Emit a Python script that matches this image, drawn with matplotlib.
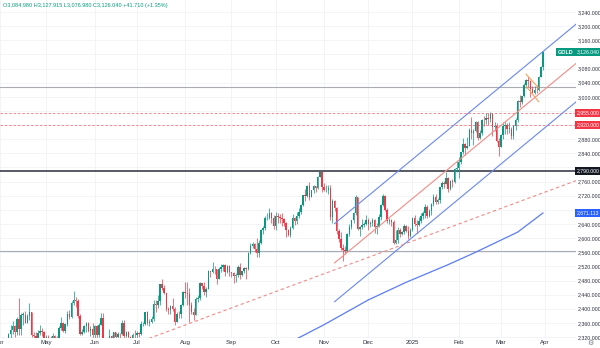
import numpy as np
import pandas as pd
import matplotlib
matplotlib.use("Agg")
import matplotlib.pyplot as plt
from matplotlib.transforms import blended_transform_factory

# ---------------- data (daily XAUUSD, Apr 2024 - Mar 2025) ----------------
holidays = ["2024-12-25", "2025-01-01"]
dates = [d for d in pd.bdate_range("2024-04-01", "2025-03-31") if d.strftime("%Y-%m-%d") not in holidays]

opens = [
    2233,2250,2280,2300,2291,2329,2339,2352,2333,2372,2344,2383,2383,2361,2379,2392,2327,2322,2316,2332,2337,2335,
    2286,2320,2304,2301,2324,2314,2309,2346,2360,2336,2358,2386,2376,2415,2425,2421,2379,2329,2334,2351,2361,2338,2343,
    2327,2350,2326,2355,2375,2294,2311,2316,2324,2303,2333,2319,2329,2328,2360,2322,2334,2319,2298,2327,
    2326,2331,2330,2356,2356,2392,2359,2364,2371,2414,2411,2422,2469,2459,2445,2400,2396,2409,2398,2364,2386,2384,2410,
    2448,2446,2443,2410,2390,2383,2427,2431,2472,2465,2448,2456,2507,2504,2514,2512,2484,2512,2518,2524,2504,2521,
    2503,2500,2493,2495,2517,2497,2506,2516,2512,2558,2578,2582,2569,2559,2587,2622,2628,2657,2657,2672,2658,
    2634,2663,2659,2656,2653,2644,2622,2608,2630,2657,2649,2662,2674,2693,2721,2719,2748,2717,2736,2747,2743,2774,2788,
    2744,2736,2736,2742,2659,2706,2685,2619,2598,2573,2565,2563,2612,2631,2650,2670,2715,2625,2632,2636,2640,
    2650,2640,2643,2650,2632,2633,2660,2694,2718,2681,2648,2652,2646,2587,2594,2622,2612,2618,2634,2621,2606,
    2624,2658,2640,2636,2648,2662,2670,2689,2662,2677,2697,2715,2702,2708,2745,2755,2754,2770,2740,2763,2760,2795,
    2798,2815,2843,2866,2856,2861,2907,2898,2904,2928,2883,2898,2935,2933,2939,2936,2951,2915,2917,2876,
    2858,2893,2918,2920,2910,2910,2889,2917,2934,2988,2984,3001,3034,3047,3044,3023,3011,3020,3019,3057,3084.98,
]
highs = [
    2266,2281,2305,2305,2331,2354,2365,2355,2378,2431,2387,2392,2394,2386,2417,2392,2335,2335,2339,2353,2345,2336,
    2327,2326,2324,2331,2326,2322,2351,2378,2364,2359,2393,2397,2422,2450,2433,2428,2385,2343,2355,2364,2363,2351,2360,
    2354,2355,2361,2388,2388,2315,2317,2343,2326,2335,2335,2334,2332,2368,2369,2336,2336,2322,2332,2340,
    2338,2335,2365,2363,2392,2393,2370,2379,2424,2424,2440,2469,2483,2468,2446,2405,2412,2431,2404,2391,2395,2413,2451,
    2477,2477,2460,2420,2401,2432,2439,2476,2474,2477,2461,2509,2508,2531,2521,2514,2517,2528,2526,2528,2523,2525,
    2505,2503,2500,2523,2529,2508,2518,2518,2560,2586,2589,2585,2600,2595,2625,2634,2664,2670,2685,2674,2665,
    2673,2670,2669,2671,2657,2646,2626,2633,2669,2660,2673,2685,2696,2722,2740,2749,2758,2737,2749,2747,2775,2790,2790,
    2757,2750,2750,2750,2710,2709,2688,2627,2618,2582,2577,2615,2639,2651,2674,2721,2716,2635,2655,2646,2665,
    2657,2649,2657,2655,2644,2668,2697,2726,2723,2686,2657,2655,2652,2623,2632,2630,2621,2639,2637,2635,2629,
    2660,2665,2650,2660,2670,2678,2697,2693,2683,2700,2725,2724,2713,2746,2763,2763,2786,2772,2764,2768,2799,2817,
    2830,2845,2882,2869,2887,2911,2942,2910,2932,2931,2905,2937,2947,2955,2954,2956,2953,2930,2925,2882,
    2895,2928,2930,2925,2930,2915,2921,2940,2990,3005,3002,3038,3050,3057,3047,3031,3030,3033,3060,3087,3127.915,
]
lows = [
    2229,2244,2269,2275,2276,2318,2329,2319,2327,2326,2325,2354,2359,2361,2369,2320,2291,2309,2304,2325,2324,2285,
    2281,2295,2277,2291,2304,2297,2306,2340,2334,2332,2352,2372,2373,2412,2406,2374,2326,2325,2332,2334,2334,2324,2314,
    2314,2316,2320,2354,2287,2286,2298,2299,2301,2297,2311,2308,2318,2327,2316,2319,2316,2293,2294,2318,
    2318,2319,2327,2352,2353,2354,2351,2360,2366,2392,2401,2410,2454,2441,2393,2384,2386,2393,2353,2364,2375,2375,2408,
    2430,2410,2364,2385,2367,2382,2418,2425,2456,2439,2432,2455,2489,2500,2499,2471,2484,2504,2506,2494,2502,2492,
    2491,2472,2477,2490,2485,2493,2500,2485,2510,2556,2573,2560,2547,2547,2584,2613,2623,2652,2655,2642,2625,
    2624,2643,2642,2635,2634,2604,2605,2603,2625,2637,2640,2657,2667,2692,2705,2717,2708,2715,2728,2731,2738,2772,2730,
    2732,2730,2725,2652,2643,2677,2611,2590,2565,2536,2555,2562,2605,2625,2643,2666,2622,2605,2625,2631,2636,
    2622,2632,2633,2614,2613,2631,2652,2690,2676,2643,2640,2634,2583,2583,2585,2603,2610,2613,2616,2597,2602,
    2620,2635,2614,2634,2643,2655,2658,2656,2660,2666,2692,2696,2696,2699,2740,2741,2752,2730,2737,2746,2755,2786,
    2771,2810,2839,2834,2853,2860,2880,2864,2900,2877,2880,2891,2918,2923,2920,2930,2890,2904,2872,2832,
    2857,2880,2895,2894,2897,2880,2880,2906,2930,2972,2980,3000,3025,3029,2999,3010,3009,3012,3016,3055,3076.98,
]
closes = [
    2250,2280,2300,2291,2329,2339,2352,2333,2372,2344,2383,2383,2361,2379,2392,2327,2322,2316,2332,2337,2335,2286,
    2320,2304,2301,2324,2314,2309,2346,2360,2336,2358,2386,2376,2415,2425,2421,2379,2329,2334,2351,2361,2338,2343,2327,
    2350,2326,2355,2375,2294,2311,2316,2324,2303,2333,2319,2329,2328,2360,2322,2334,2319,2298,2327,2326,
    2331,2330,2356,2356,2392,2359,2364,2371,2414,2411,2422,2469,2459,2445,2400,2396,2409,2398,2364,2386,2384,2410,2448,
    2446,2443,2410,2390,2383,2427,2431,2472,2465,2448,2456,2507,2504,2514,2512,2484,2512,2518,2524,2504,2521,2503,
    2500,2493,2495,2517,2497,2506,2516,2512,2558,2578,2582,2569,2559,2587,2622,2628,2657,2657,2672,2658,2634,
    2663,2659,2656,2653,2644,2622,2608,2630,2657,2649,2662,2674,2693,2721,2719,2748,2717,2736,2747,2743,2774,2788,2744,
    2736,2736,2742,2659,2706,2685,2619,2598,2573,2565,2563,2612,2631,2650,2670,2715,2625,2632,2636,2640,2650,
    2640,2643,2650,2632,2633,2660,2694,2718,2681,2648,2652,2646,2587,2594,2622,2612,2618,2634,2621,2606,2624,
    2658,2640,2636,2648,2662,2670,2689,2662,2677,2697,2715,2702,2708,2745,2755,2754,2770,2740,2763,2760,2795,2798,
    2815,2843,2866,2856,2861,2907,2898,2904,2928,2883,2898,2935,2933,2939,2936,2951,2915,2917,2876,2858,
    2893,2918,2920,2910,2910,2889,2917,2934,2988,2984,3001,3034,3047,3044,3023,3011,3020,3019,3057,3084.33,3126.04,
]

# 200-day moving average
ma_dates = ["2024-10-01", "2024-11-01", "2024-12-02", "2024-12-27", "2025-01-27", "2025-02-13", "2025-03-13", "2025-03-31"]
ma_values = [2284, 2355, 2425, 2475, 2525, 2560, 2617, 2671.113]

# drawn tools: (start date, start price, end date, end price)
channel_upper = ("2024-11-08", 2641, "2025-03-31", 3128)
channel_mid = ("2024-11-08", 2530, "2025-03-31", 3017)
channel_lower = ("2024-11-08", 2420, "2025-03-31", 2908)
trend_dashed = ("2024-07-25", 2343, "2025-03-31", 2728)
flag_upper = ("2025-03-19", 3064, "2025-03-27", 3025)
flag_lower = ("2025-03-19", 3030, "2025-03-27", 2986)

hline_gray = [3028, 2563]
hline_red = [2955, 2920]
hline_black = 2790

month_labels = ["Apr", "May", "Jun", "Jul", "Aug", "Sep", "Oct", "Nov", "Dec", "2025", "Feb", "Mar", "Apr"]
price_ticks = [2320, 2360, 2400, 2440, 2480, 2520, 2560, 2600, 2640, 2680, 2720, 2760,
               2840, 2880, 3000, 3040, 3080, 3160, 3200, 3240]

# ---------------- figure ----------------
UP, DOWN = "#089981", "#f23645"
SANS = ["Liberation Sans", "DejaVu Sans"]
date_index = {d.strftime("%Y-%m-%d"): i for i, d in enumerate(dates)}
n = len(dates)

def xi(ds):
    return date_index[ds]

fig = plt.figure(figsize=(6, 3.48), dpi=100)
ax = fig.add_axes([0, 10 / 348, 576 / 600, 338 / 348])
x_left, x_right = 1 / 2.108, 577 / 2.108
y_low, y_high = 2317.3, 3273.96
ax.set_xlim(x_left, x_right)
ax.set_ylim(y_low, y_high)
for s in ax.spines.values():
    s.set_visible(False)

# month ticks
month_pos = []
prev = None
for i, d in enumerate(dates):
    if d.month != prev:
        month_pos.append(i)
        prev = d.month
month_pos.append(n)  # April 2025 (next bar)
ax.set_xticks(month_pos)
ax.set_xticklabels(month_labels, family=SANS, fontsize=4.4)
ax.set_yticks(price_ticks)
ax.set_yticklabels([f"{v:,.3f}" for v in price_ticks], family=SANS, fontsize=3.8)
ax.yaxis.tick_right()
ax.tick_params(axis="both", length=0, colors="#2a2e39")
ax.tick_params(axis="y", pad=1.3)
ax.tick_params(axis="x", pad=1.5)
ax.grid(True, color="#f0f2f7", lw=0.6, zorder=0)
for p in [2800, 2920, 2960, 3120]:
    ax.axhline(p, color="#f0f2f7", lw=0.6, zorder=0)

# candles
o = np.array(opens, float); h = np.array(highs, float)
l = np.array(lows, float); c = np.array(closes, float)
idx = np.arange(n)
cols = np.where(c >= o, UP, DOWN)
ax.vlines(idx, l, h, colors=cols, lw=0.5, zorder=3)
body = np.maximum(np.abs(c - o), 1.0)
ax.bar(idx, body, bottom=np.minimum(o, c), width=0.7, color=cols, linewidth=0, zorder=3)

# horizontal levels
for p in hline_gray:
    ax.axhline(p, color="#a9acb5", lw=0.8, zorder=2)
for p in hline_red:
    ax.axhline(p, color="#f5868d", lw=0.7, ls=(0, (2.5, 2)), zorder=2)
ax.axhline(hline_black, color="#2a2e39", lw=1.1, zorder=2)

def draw_line(spec, color, extend=True, start_extend=False, **kw):
    d0, p0, d1, p1 = spec
    i0, i1 = xi(d0), xi(d1)
    slope = (p1 - p0) / (i1 - i0)
    xs0 = x_left - 5 if start_extend else i0
    xs1 = x_right + 5 if extend else i1
    ax.plot([xs0, xs1], [p0 + slope * (xs0 - i0), p0 + slope * (xs1 - i0)], color=color, zorder=4, **kw)

draw_line(channel_upper, "#6a88f0", lw=0.8)
draw_line(channel_mid, "#f28b85", lw=0.8)
draw_line(channel_lower, "#6a88f0", lw=0.8)
draw_line(trend_dashed, "#f28b85", start_extend=True, lw=0.8, ls=(0, (3, 2.5)))
draw_line(flag_upper, "#f7a35c", extend=False, lw=0.8)
draw_line(flag_lower, "#f7a35c", extend=False, lw=0.8)

# moving average
ax.plot([xi(d) for d in ma_dates], ma_values, color="#5b7cf5", lw=0.9, zorder=4)

# axis tags
bt = blended_transform_factory(ax.transAxes, ax.transData)
def tag(price, text, fc):
    ax.text(1.0015, price, text, transform=bt, ha="left", va="center", fontsize=3.7,
            family=SANS, color="white", clip_on=False, zorder=10,
            bbox=dict(boxstyle="square,pad=0.3", fc=fc, ec="none"))

tag(closes[-1], f"{closes[-1]:,.3f}", UP)
tag(2955, "2,955.000", DOWN)
tag(2920, "2,920.000", DOWN)
tag(2790, "2,790.000", "#131722")
tag(ma_values[-1], f"{ma_values[-1]:,.3f}", "#2962ff")
ax.text(0.996, closes[-1], "GOLD", transform=bt, ha="right", va="center", fontsize=3.9,
        family=SANS, color="white", zorder=10, fontweight="bold",
        bbox=dict(boxstyle="square,pad=0.3", fc=UP, ec="none"))

# legend header
chg = closes[-1] - closes[-2]
header = (f"O{opens[-1]:,.3f} H{highs[-1]:,.3f} L{lows[-1]:,.3f} C{closes[-1]:,.3f} "
          f"+{chg:,.3f} (+{chg / closes[-2] * 100:.2f}%)")
fig.text(3 / 600, 1 - 5 / 348, header, fontsize=4.0, family=SANS, color=UP, ha="left", va="center")
fig.text(590 / 600, 5 / 348, "\u2699", fontsize=5, color="#787b86", ha="center", va="center")

fig.savefig("out.png", dpi=100)
